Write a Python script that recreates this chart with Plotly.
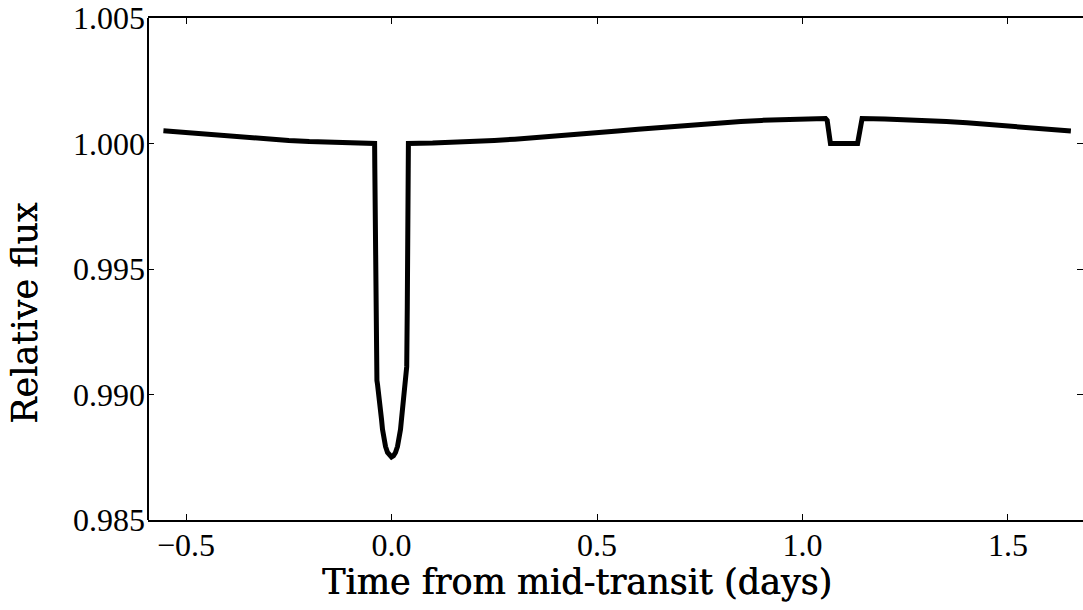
import plotly.graph_objects as go

# Light curve: time from mid-transit (days) and relative flux
time_days = [
    -0.555, -0.50, -0.45, -0.40, -0.35, -0.30, -0.25, -0.20, -0.15, -0.10, -0.0411,
    -0.0406, -0.0397, -0.0384, -0.0370, -0.0355, -0.0341, -0.0316, -0.0292, -0.0268,
    -0.0243, -0.0219, -0.0195, -0.0146, -0.0097, -0.0049, 0.0,
    0.0049, 0.0097, 0.0146, 0.0195, 0.0219, 0.0243, 0.0268, 0.0292, 0.0316,
    0.0341, 0.0355, 0.0370, 0.0384, 0.0397, 0.0406, 0.0411,
    0.10, 0.15, 0.20, 0.25, 0.30, 0.35, 0.40, 0.45, 0.50, 0.55, 0.60, 0.65, 0.70,
    0.75, 0.80, 0.85, 0.90, 0.95, 1.00, 1.056,
    1.060, 1.064, 1.068, 1.134, 1.138, 1.142, 1.145,
    1.20, 1.25, 1.30, 1.35, 1.40, 1.45, 1.50, 1.55, 1.60, 1.653,
]
relative_flux = [
    1.000507, 1.000429, 1.000359, 1.000292, 1.000230, 1.000173, 1.000122, 1.000079, 1.000045, 1.000020, 1.000003,
    0.99901, 0.99641, 0.99351, 0.99111, 0.99056, 0.99041, 0.99013, 0.98981, 0.98941,
    0.98901, 0.98861, 0.98831, 0.98793, 0.98769, 0.98756, 0.98751,
    0.98756, 0.98769, 0.98793, 0.98831, 0.98861, 0.98901, 0.98941, 0.98981, 0.99013,
    0.99041, 0.99056, 0.99111, 0.99351, 0.99641, 0.99901, 1.000003,
    1.000020, 1.000045, 1.000079, 1.000122, 1.000173, 1.000230, 1.000292, 1.000359, 1.000429, 1.000500, 1.000571, 1.000641, 1.000708,
    1.000770, 1.000827, 1.000878, 1.000921, 1.000955, 1.000980, 1.000996,
    1.000920, 1.000400, 1.000000, 1.000000, 1.000400, 1.000920, 1.000996,
    1.000980, 1.000955, 1.000921, 1.000878, 1.000827, 1.000770, 1.000708, 1.000641, 1.000571, 1.000496,
]

x_ticks = [-0.5, 0.0, 0.5, 1.0, 1.5]
y_ticks = [0.985, 0.990, 0.995, 1.000, 1.005]

x_range = [-0.5925, 1.6825]
y_range = [0.985, 1.005]

fig = go.Figure()
fig.add_trace(go.Scatter(
    x=time_days, y=relative_flux, mode="lines",
    line=dict(color="black", width=5),
    hoverinfo="skip", showlegend=False,
))

tick_font = dict(family="Liberation Serif", size=32, color="black")
# slightly heavier than regular weight for the axis titles
label_font = dict(family="DejaVu Serif", size=35, color="black",
                  shadow="0.6px 0px 0px black")

tick_common = dict(
    showgrid=False, zeroline=False,
    ticks="inside", ticklen=6, tickwidth=1, tickcolor="black", mirror="ticks",
    tickfont=tick_font, ticklabeloverflow="allow",
)

fig.update_xaxes(
    range=x_range, tickvals=x_ticks, tickformat=".1f",
    showline=True, linecolor="black", linewidth=2, ticklabelstandoff=-4,
    **tick_common,
)
# left spine is drawn as a shape so no line shows on the right edge
fig.update_yaxes(
    range=y_range, tickvals=y_ticks, tickformat=".3f",
    showline=False, ticklabelstandoff=2,
    **tick_common,
)
fig.add_shape(
    type="line", xref="paper", yref="paper", x0=0, x1=0, y0=0, y1=1,
    line=dict(color="black", width=2),
)

fig.add_annotation(
    text="Time from mid-transit (days)", xref="paper", yref="paper",
    x=0.4588, y=-0.123, xanchor="center", yanchor="middle",
    showarrow=False, font=label_font,
)
fig.add_annotation(
    text="Relative flux", xref="paper", yref="paper",
    x=-0.1316, y=0.4127, xanchor="center", yanchor="middle", textangle=-90,
    showarrow=False, font=dict(label_font, shadow="0px -0.6px 0px black"),
)

fig.update_layout(
    width=1083, height=610,
    margin=dict(l=148, r=0, t=16, b=90),
    paper_bgcolor="white", plot_bgcolor="white",
)

fig.write_html("out.html")
